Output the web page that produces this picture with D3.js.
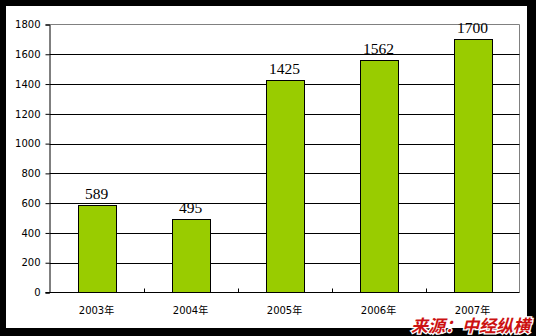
<!DOCTYPE html>
<html><head><meta charset="utf-8">
<script src="https://cdn.jsdelivr.net/npm/d3@7/dist/d3.min.js"></script>
<style>body{margin:0;background:#000;}svg{display:block;}</style>
</head><body>
<script>
const categories = ["2003年","2004年","2005年","2006年","2007年"];
const values = [589, 495, 1425, 1562, 1700];
const yTicks = [0,200,400,600,800,1000,1200,1400,1600,1800];
const sourceText = "来源：中经纵横";

const W = 536, H = 336;
const svg = d3.select("body").append("svg").attr("width", W).attr("height", H);
svg.append("rect").attr("width", W).attr("height", H).attr("fill", "#000");
svg.append("rect").attr("x", 6).attr("y", 6).attr("width", 521).attr("height", 322).attr("fill", "#fff");

const L = 49.5, R = 519.5, T = 24.5, B = 292.5;
const x = d3.scaleBand().domain(categories).range([L, R]).paddingInner(0.6).paddingOuter(0.3);
const xb = d3.scaleBand().domain(categories).range([L, R]);
const y = d3.scaleLinear().domain([0, 1800]).range([B, T]);

// plot border (gray top/right)
svg.append("path").attr("d", `M${L},${T}H${R}V${B}`).attr("fill", "none").attr("stroke", "#808080").attr("stroke-width", 1);

// gridlines
svg.append("g").selectAll("line").data(yTicks.filter(v => v > 0 && v < 1800)).join("line")
  .attr("x1", L).attr("x2", R).attr("y1", d => Math.round(y(d)) + 0.5).attr("y2", d => Math.round(y(d)) + 0.5)
  .attr("stroke", "#000").attr("stroke-width", 1);

// bars
svg.append("g").selectAll("rect").data(values).join("rect")
  .attr("x", (d, i) => Math.round(x(categories[i])) + 0.5)
  .attr("width", Math.round(x.bandwidth()))
  .attr("y", d => Math.round(y(d)) + 0.5)
  .attr("height", d => B - Math.round(y(d)) - 0.5)
  .attr("fill", "#99CC00").attr("stroke", "#000").attr("stroke-width", 1);

// value labels
svg.append("g").selectAll("text").data(values).join("text")
  .attr("x", (d, i) => x(categories[i]) + x.bandwidth() / 2)
  .attr("y", d => y(d) - 6)
  .attr("text-anchor", "middle")
  .attr("font-family", "Liberation Serif, serif").attr("font-size", "15.5px").attr("fill", "#000")
  .text(d => d);

// y axis
const yAxis = d3.axisLeft(y).tickValues(yTicks).tickFormat(d3.format("d")).tickSize(4).tickPadding(4);
const gy = svg.append("g").attr("transform", `translate(${L},0)`).call(yAxis);
gy.select(".domain").attr("stroke", "#000");
gy.selectAll(".tick line").attr("stroke", "#000");
gy.selectAll("text").attr("font-family", "DejaVu Sans, sans-serif").attr("font-size", "10px").attr("fill", "#000").attr("dx", "-1");

// x axis
const gx = svg.append("g").attr("transform", `translate(0,${B})`);
gx.append("line").attr("x1", L - 4).attr("x2", R).attr("y1", 0).attr("y2", 0).attr("stroke", "#000");
gx.selectAll(".tk").data(categories.slice(1)).join("line").attr("class", "tk")
  .attr("x1", d => Math.round(xb(d)) + 0.5).attr("x2", d => Math.round(xb(d)) + 0.5)
  .attr("y1", 0).attr("y2", -4).attr("stroke", "#000");
gx.selectAll("text").data(categories).join("text")
  .attr("x", d => xb(d) + xb.bandwidth() / 2).attr("y", 21.5)
  .attr("text-anchor", "middle")
  .attr("font-family", "DejaVu Sans, Noto Sans CJK SC, sans-serif").attr("font-size", "10px").attr("fill", "#000")
  .text(d => d);

// source
svg.append("text").attr("x", 530).attr("y", 332).attr("text-anchor", "end")
  .attr("font-family", "Noto Sans CJK SC, sans-serif").attr("font-size", "17px").attr("font-weight", "bold")
  .attr("font-style", "italic")
  .attr("fill", "#CC1111").attr("stroke", "#fff").attr("stroke-width", 2.5).attr("paint-order", "stroke")
  .text(sourceText);
</script>
</body></html>
